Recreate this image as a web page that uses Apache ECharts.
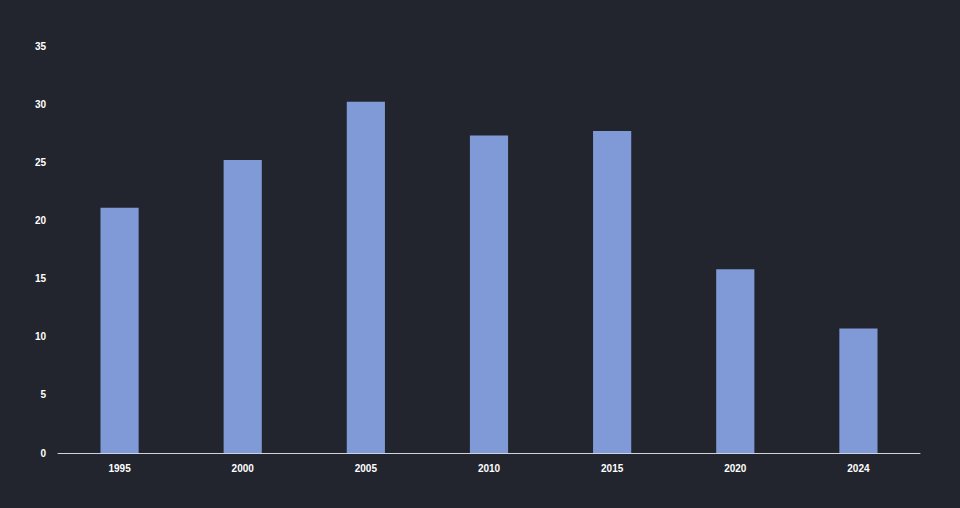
<!DOCTYPE html>
<html>
<head>
<meta charset="utf-8">
<script src="https://cdn.jsdelivr.net/npm/echarts@6/dist/echarts.min.js"></script>
<style>
  html, body { margin: 0; padding: 0; background: #22252e; }
  #chart { width: 960px; height: 508px; }
</style>
</head>
<body>
<div id="chart"></div>
<script>
var years = ['1995', '2000', '2005', '2010', '2015', '2020', '2024'];
var values = [21.1, 25.2, 30.2, 27.3, 27.7, 15.8, 10.7];

var myChart = echarts.init(document.getElementById('chart'), null, { renderer: 'svg' });

var option = {
    backgroundColor: '#22252e',
    animation: false,
    grid: {
        top: 46,
        left: 58,
        right: 40,
        bottom: 55
    },
    xAxis: {
        type: 'category',
        data: years,
        axisTick: { show: false },
        axisLine: { lineStyle: { color: '#d0d3da' } },
        axisLabel: { color: '#ffffff', fontWeight: 'bold', fontSize: 10, fontFamily: 'Liberation Sans', margin: 10 }
    },
    yAxis: {
        type: 'value',
        min: 0,
        max: 35,
        interval: 5,
        splitLine: { show: false },
        axisLabel: { color: '#ffffff', fontWeight: 'bold', fontSize: 10, fontFamily: 'Liberation Sans', margin: 12 }
    },
    series: [
        {
            type: 'bar',
            data: values,
            barWidth: '31%',
            itemStyle: { color: '#7f9ad6' }
        }
    ]
};
myChart.setOption(option, true);
</script>
</body>
</html>
